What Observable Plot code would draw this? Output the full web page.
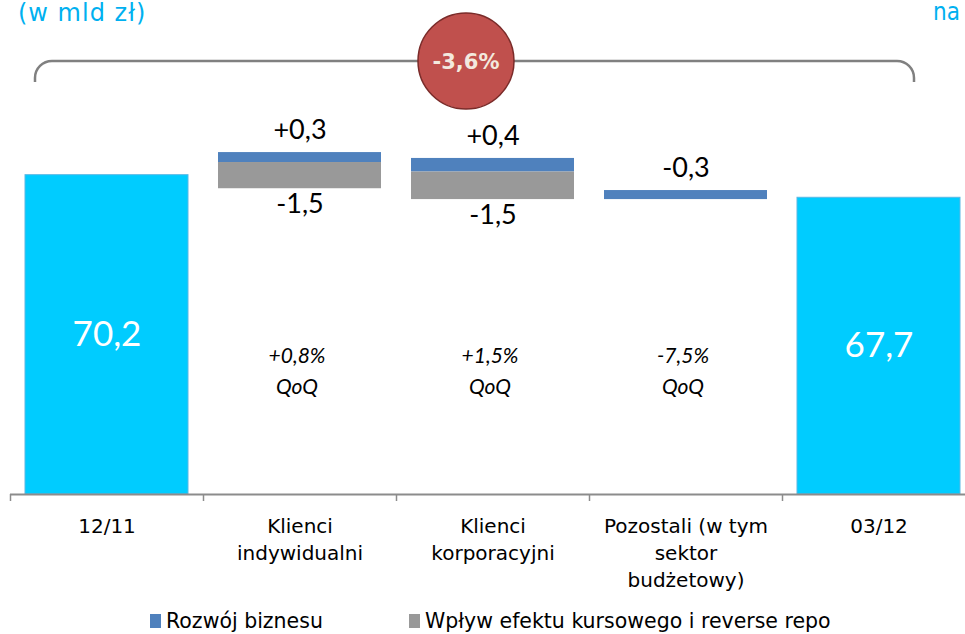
<!DOCTYPE html>
<html>
<head>
<meta charset="utf-8">
<script src="https://cdn.jsdelivr.net/npm/d3@7"></script>
<script src="https://cdn.jsdelivr.net/npm/@observablehq/plot@0.6"></script>
<style>
  html, body { margin: 0; padding: 0; background: #fff; overflow: hidden; }
  #chart svg { display: block; }
  .legend { position: relative; height: 34px; font-family: "DejaVu Sans", sans-serif; font-size: 20.5px; color: #000; }
  .legend .item { position: absolute; top: 9px; display: flex; align-items: center; white-space: nowrap; }
  .legend .sw { width: 11px; height: 14px; margin-right: 5px; }
</style>
</head>
<body>
<div id="chart"></div>
<div class="legend">
  <div class="item" style="left:150px"><span class="sw" style="background:#4F81BD"></span><span>Rozwój biznesu</span></div>
  <div class="item" style="left:409px"><span class="sw" style="background:#999999"></span><span>Wpływ efektu kursowego i reverse repo</span></div>
</div>
<script>
// ---- data ----
const categories = ["12/11", "Klienci indywidualni", "Klienci korporacyjni", "Pozostali (w tym sektor budżetowy)", "03/12"];
const categoryLabels = ["12/11", "Klienci\nindywidualni", "Klienci\nkorporacyjni", "Pozostali (w tym\nsektor\nbudżetowy)", "03/12"];
const totalCats = ["12/11", "03/12"];
const totalValues = [70.2, 67.7];
const stepCats = ["Klienci indywidualni", "Klienci korporacyjni", "Pozostali (w tym sektor budżetowy)"];
// drawn levels of the floating segments (as drawn in the picture)
const blueTop = [72.7, 72.05, 68.5];
const blueBottom = [71.6, 70.55, 67.5];
const greyTop = [71.6, 70.55, null];
const greyBottom = [68.7, 67.5, null];
const blueLabels = ["+0,3", "+0,4", "-0,3"];
const greyLabels = ["-1,5", "-1,5", null];
const qoqLabels = ["+0,8%\nQoQ", "+1,5%\nQoQ", "-7,5%\nQoQ"];
const totalChange = "-3,6%";
const unitLabel = "(w mld zł)";
const AXIS_MIN = 34.88, AXIS_MAX = 89.52;

const totals = totalCats.map((c, i) => ({cat: c, value: totalValues[i]}));
const steps = stepCats.map((c, i) => ({
  cat: c, blueTop: blueTop[i], blueBottom: blueBottom[i],
  greyTop: greyTop[i], greyBottom: greyBottom[i],
  blueLabel: blueLabels[i], greyLabel: greyLabels[i], qoq: qoqLabels[i]
}));
const greySteps = steps.filter(d => d.greyTop != null);
const fmt = v => d3.format(".1f")(v).replace(".", ",");
const labelOf = new Map(categories.map((c, i) => [c, categoryLabels[i]]));

const numFont = "Lato, 'Open Sans', sans-serif";

const plot = Plot.plot({
  width: 965,
  height: 600,
  marginTop: 0,
  marginBottom: 106,
  marginLeft: 10,
  marginRight: 0,
  style: {fontFamily: "'DejaVu Sans', sans-serif", fontSize: "20px", background: "white", color: "#000", overflow: "visible"},
  x: {domain: categories, range: [10, 975], padding: 0, axis: null, label: null},
  y: {domain: [AXIS_MIN, AXIS_MAX], axis: null},
  marks: [
    Plot.barY(totals, {x: "cat", y1: AXIS_MIN, y2: "value", fill: "#00CCFF", stroke: "#5BB8E4", strokeWidth: 1, insetLeft: 15, insetRight: 15}),
    Plot.barY(steps, {x: "cat", y1: "blueBottom", y2: "blueTop", fill: "#4F81BD", insetLeft: 15, insetRight: 15}),
    Plot.barY(greySteps, {x: "cat", y1: "greyBottom", y2: "greyTop", fill: "#999999", insetLeft: 15, insetRight: 15}),
    Plot.text(steps, {x: "cat", y: "blueTop", text: "blueLabel", dy: -22, fontSize: 27, fontFamily: numFont, fill: "#000"}),
    Plot.text(greySteps, {x: "cat", y: "greyBottom", text: "greyLabel", dy: 16, fontSize: 27, fontFamily: numFont, fill: "#000"}),
    Plot.text(totals, {x: "cat", y: d => (AXIS_MIN + d.value) / 2, text: d => fmt(d.value), fontSize: 35, fontFamily: numFont, fill: "white"}),
    Plot.text(steps, {x: "cat", text: "qoq", frameAnchor: "top", lineAnchor: "middle", dy: 368, dx: -3, lineHeight: 1.5, fontSize: 21, fontStyle: "italic", fontFamily: numFont, fill: "#000"}),
    Plot.ruleY([AXIS_MIN], {stroke: "#8C8C8C", strokeWidth: 2}),
    Plot.axisX({tickSize: 7, text: null, dx: -96.5, stroke: "#8C8C8C", strokeWidth: 1.5, label: null}),
    Plot.axisX({tickSize: 0, tickPadding: 19, tickFormat: c => labelOf.get(c), lineHeight: 1.35, fontSize: 20, fill: "#000", label: null})
  ]
});

document.getElementById("chart").appendChild(plot);

// ---- annotations: brace, change bubble, header texts ----
const svg = d3.select(plot);
const g = svg.append("g").attr("text-anchor", "start");
g.append("path")
  .attr("d", "M35,82 V78 A17,17 0 0 1 52,61 H897 A17,17 0 0 1 914,78 V82")
  .attr("fill", "none").attr("stroke", "#808080").attr("stroke-width", 2.5);
g.append("circle").attr("cx", 466).attr("cy", 61).attr("r", 48)
  .attr("fill", "#C0504D").attr("stroke", "#7A2B29").attr("stroke-width", 1.5);
g.append("text").attr("x", 466).attr("y", 61).attr("dy", "0.36em")
  .attr("text-anchor", "middle").attr("font-family", "'DejaVu Sans', sans-serif")
  .attr("font-weight", "bold").attr("font-size", 21).attr("fill", "#F3E9DE").text(totalChange);
g.append("text").attr("x", 18).attr("y", 21).attr("text-anchor", "start")
  .attr("font-family", "'DejaVu Sans', sans-serif").attr("font-size", 24)
  .attr("letter-spacing", 1).attr("fill", "#00B0F0").text(unitLabel);
g.append("text").attr("x", 933).attr("y", 20).attr("text-anchor", "start")
  .attr("font-family", "'DejaVu Sans Condensed', 'DejaVu Sans', sans-serif").attr("font-size", 24)
  .attr("fill", "#00B0F0").text("na");
</script>
</body>
</html>
